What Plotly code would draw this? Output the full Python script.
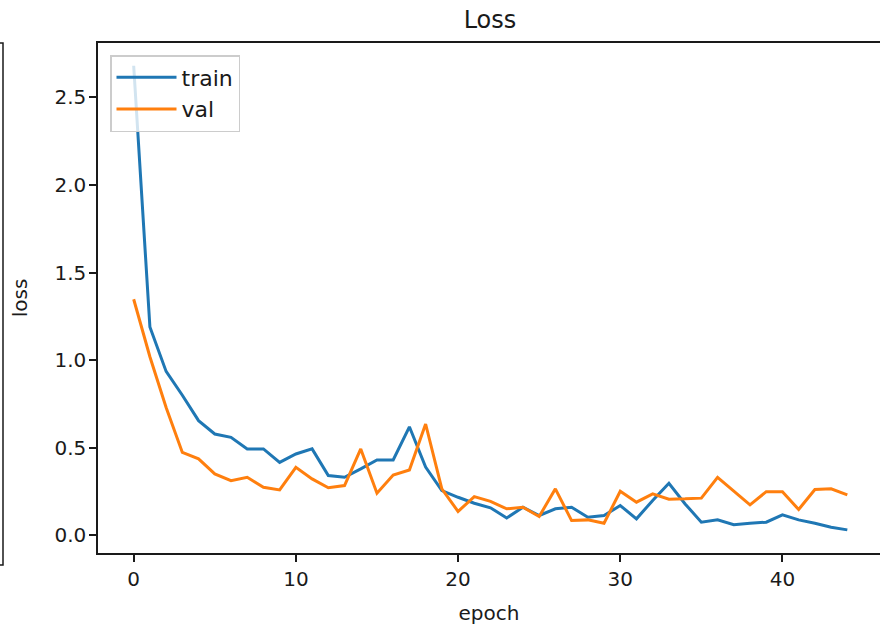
import plotly.graph_objects as go

epochs = list(range(45))
train_loss = [2.68, 1.19, 0.936, 0.80, 0.655, 0.579, 0.56, 0.494, 0.494, 0.417,
              0.465, 0.494, 0.342, 0.332, 0.38, 0.431, 0.431, 0.62, 0.39, 0.256,
              0.218, 0.184, 0.158, 0.10, 0.161, 0.114, 0.152, 0.161, 0.104, 0.114,
              0.171, 0.095, 0.20, 0.298, 0.18, 0.076, 0.089, 0.061, 0.07, 0.076,
              0.118, 0.089, 0.07, 0.047, 0.032]
val_loss = [1.348, 1.02, 0.73, 0.474, 0.437, 0.351, 0.313, 0.332, 0.275, 0.26,
            0.389, 0.323, 0.272, 0.285, 0.494, 0.241, 0.345, 0.374, 0.636, 0.266,
            0.137, 0.222, 0.195, 0.152, 0.161, 0.108, 0.266, 0.085, 0.089, 0.07,
            0.252, 0.19, 0.237, 0.207, 0.209, 0.213, 0.332, 0.256, 0.175, 0.25,
            0.25, 0.148, 0.262, 0.266, 0.232]
x_ticks = [0, 10, 20, 30, 40]
y_ticks = [0.0, 0.5, 1.0, 1.5, 2.0, 2.5]

FONT = "DejaVu Sans"
TXT = "#1a1a1a"

fig = go.Figure()
fig.add_trace(go.Scatter(x=epochs, y=train_loss, mode="lines", name="train",
                         line=dict(color="#1f77b4", width=3)))
fig.add_trace(go.Scatter(x=epochs, y=val_loss, mode="lines", name="val",
                         line=dict(color="#ff7f0e", width=3)))

W, H = 880, 627
L, R, T, B = 98, 0, 43, 74
pw = W - L - R
ph = H - T - B
px_per_unit = 785 / 48.4

fig.update_layout(
    width=W, height=H,
    margin=dict(l=L, r=R, t=T, b=B, pad=0),
    paper_bgcolor="white", plot_bgcolor="white",
    font=dict(family=FONT, size=20, color=TXT),
    title=dict(text="Loss", x=(490 - L) / pw, xref="paper", xanchor="center",
               y=1 - 20 / H, yref="container", yanchor="middle",
               font=dict(size=24, color=TXT, family=FONT)),
    showlegend=True,
    legend=dict(x=(110 - L) / pw, y=1 - (55 - T) / ph, xanchor="left", yanchor="top",
                bgcolor="rgba(255,255,255,0.8)", bordercolor="#cccccc", borderwidth=1.5,
                font=dict(size=22, color=TXT, family=FONT), tracegroupgap=0,
                itemwidth=60),
    xaxis=dict(range=[-2.2, -2.2 + pw / px_per_unit], tickvals=x_ticks,
               ticktext=[str(v) for v in x_ticks],
               showgrid=False, zeroline=False, showline=True, mirror=True,
               linecolor="#1a1a1a", linewidth=1.5, ticks="outside", ticklen=7,
               tickwidth=1.5, tickcolor="#1a1a1a", ticklabelstandoff=0,
               title=dict(text="epoch", standoff=16, font=dict(size=20, color=TXT))),
    yaxis=dict(range=[-0.1, 2.81], tickvals=y_ticks,
               ticktext=[f"{v:.1f}" for v in y_ticks],
               showgrid=False, zeroline=False, showline=True, mirror=False,
               linecolor="#1a1a1a", linewidth=1.5, ticks="outside", ticklen=7,
               tickwidth=1.5, tickcolor="#1a1a1a", ticklabelstandoff=-1,
               title=dict(text="loss", standoff=21, font=dict(size=20, color=TXT))),
)

# partial frame of a neighbouring subplot at the left edge
x0 = (0 - L) / pw
x3 = (3 - L) / pw
ytop = 1.0
ybot = (553 - 565) / ph
fig.add_shape(type="path", xref="paper", yref="paper",
              path=f"M {x0} {ytop} L {x3} {ytop} L {x3} {ybot} L {x0} {ybot}",
              line=dict(color="#1a1a1a", width=1.5))

fig.write_html("out.html",
               config={"displayModeBar": False},
               post_script="document.body.style.margin='0px';"
                           "document.body.style.overflow='hidden';")
